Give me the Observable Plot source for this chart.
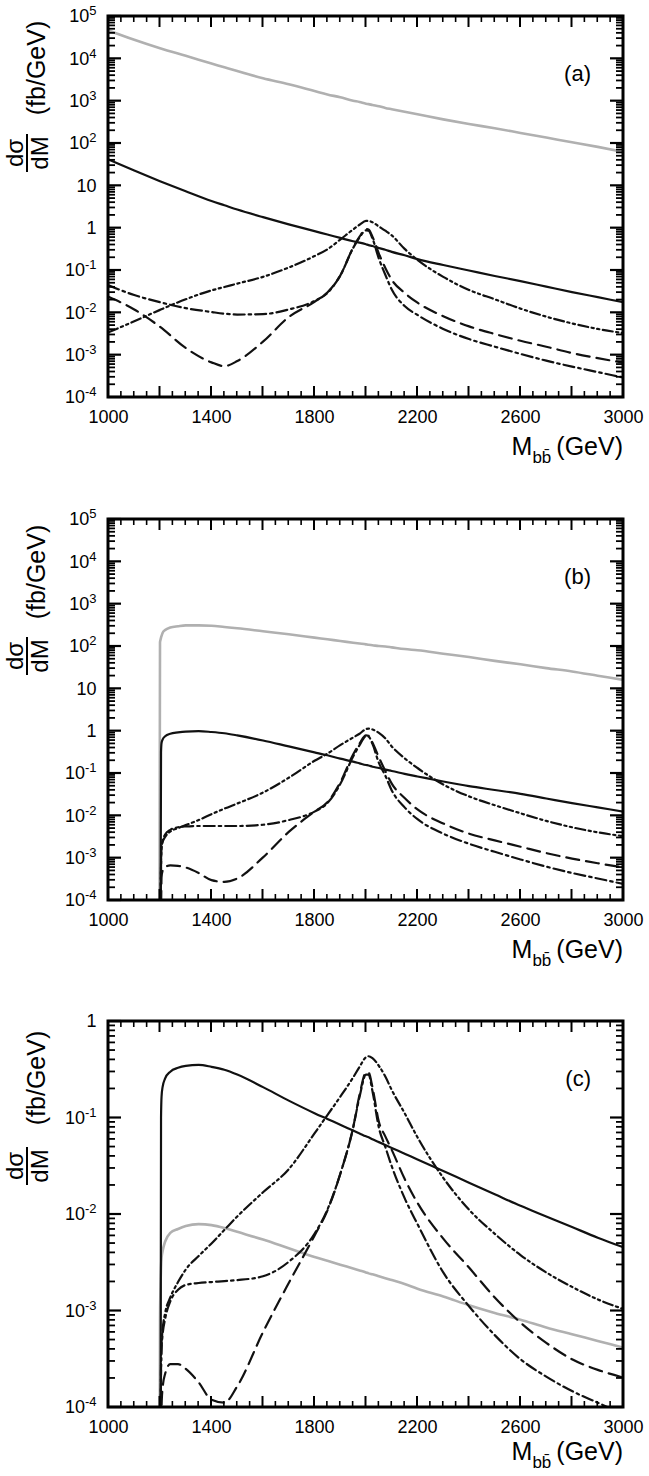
<!DOCTYPE html>
<html><head><meta charset="utf-8">
<script src="https://cdn.jsdelivr.net/npm/d3@7"></script>
<script src="https://cdn.jsdelivr.net/npm/@observablehq/plot@0.6"></script>
<style>
html,body{margin:0;padding:0;background:#fff;}
#chart{width:649px;font-family:"Liberation Sans",Arial,Helvetica,sans-serif;}
#chart svg{display:block;}
</style></head><body><div id="chart"></div>
<script>
// ---- tick labels ----
const xLabelTicks = [1000, 1400, 1800, 2200, 2600, 3000];
const xMajorTicks = [1000, 1200, 1400, 1600, 1800, 2000, 2200, 2400, 2600, 2800, 3000];
const yTicksAB = [1e5, 1e4, 1e3, 1e2, 10, 1, 1e-1, 1e-2, 1e-3, 1e-4];
const yTextAB = ["10^5", "10^4", "10^3", "10^2", "10", "1", "10^-1", "10^-2", "10^-3", "10^-4"];
const yTicksC = [1, 1e-1, 1e-2, 1e-3, 1e-4];
const yTextC = ["1", "10^-1", "10^-2", "10^-3", "10^-4"];
const panelTags = ["(a)", "(b)", "(c)"];

// ---- data: invariant mass grid (GeV) and log10(dσ/dM in fb/GeV) ----
const massA = [1000,1100,1200,1300,1400,1450,1500,1600,1700,1800,1850,1900,1950,1975,2000,2010,2025,2050,2075,2100,2150,2200,2300,2400,2500,2600,2700,2800,2900,3000];
const aGray   = [4.67,4.45,4.25,4.07,3.89,3.80,3.71,3.54,3.40,3.24,3.16,3.09,3.01,2.98,2.94,2.93,2.91,2.88,2.84,2.81,2.75,2.69,2.57,2.46,2.36,2.25,2.14,2.03,1.92,1.80];
const aSolid  = [1.62,1.36,1.11,0.87,0.64,0.54,0.44,0.26,0.09,-0.07,-0.15,-0.23,-0.31,-0.34,-0.38,-0.40,-0.42,-0.47,-0.51,-0.56,-0.64,-0.73,-0.87,-1.00,-1.13,-1.25,-1.38,-1.51,-1.63,-1.75];
const aDDD    = [-2.46,-2.20,-1.93,-1.68,-1.47,-1.39,-1.31,-1.15,-0.93,-0.66,-0.50,-0.27,-0.03,0.08,0.17,0.17,0.14,0.04,-0.06,-0.17,-0.49,-0.75,-1.15,-1.46,-1.68,-1.90,-2.09,-2.25,-2.38,-2.48];
const aDD     = [-1.35,-1.58,-1.75,-1.89,-1.98,-2.02,-2.04,-2.03,-1.92,-1.72,-1.53,-1.12,-0.47,-0.22,-0.05,-0.06,-0.24,-0.72,-1.10,-1.45,-1.84,-2.05,-2.38,-2.62,-2.80,-2.97,-3.13,-3.27,-3.40,-3.53];
const aDash   = [-1.62,-1.92,-2.33,-2.83,-3.17,-3.26,-3.14,-2.68,-2.10,-1.74,-1.52,-1.12,-0.46,-0.20,-0.02,-0.03,-0.20,-0.60,-0.94,-1.22,-1.53,-1.76,-2.08,-2.32,-2.50,-2.66,-2.80,-2.95,-3.07,-3.18];

const massBC = [1198,1200,1202,1204,1206,1210,1220,1240,1270,1300,1350,1400,1450,1500,1600,1700,1800,1850,1900,1950,1975,2000,2010,2025,2050,2075,2100,2150,2200,2300,2400,2500,2600,2700,2800,2900,3000];
const bGray   = [-5,2.10,2.16,2.21,2.25,2.32,2.39,2.45,2.48,2.50,2.50,2.49,2.46,2.43,2.36,2.29,2.21,2.17,2.13,2.09,2.07,2.05,2.04,2.03,2.01,2.00,1.98,1.94,1.91,1.83,1.75,1.66,1.58,1.49,1.41,1.31,1.21];
const bSolid  = [-5,-5,-5,-0.50,-0.28,-0.20,-0.12,-0.06,-0.03,-0.01,0.00,-0.02,-0.05,-0.10,-0.22,-0.36,-0.50,-0.57,-0.65,-0.72,-0.76,-0.80,-0.81,-0.84,-0.87,-0.91,-0.94,-1.01,-1.07,-1.19,-1.30,-1.39,-1.48,-1.59,-1.70,-1.80,-1.90];
const bDDD    = [-5,-5,-4.2,-3.2,-2.75,-2.62,-2.50,-2.37,-2.29,-2.22,-2.10,-1.96,-1.83,-1.71,-1.45,-1.10,-0.70,-0.53,-0.33,-0.15,-0.06,0.05,0.06,0.04,-0.04,-0.17,-0.36,-0.64,-0.87,-1.26,-1.54,-1.75,-1.94,-2.12,-2.27,-2.39,-2.48];
const bDD     = [-5,-5,-4.2,-3.2,-2.75,-2.60,-2.44,-2.33,-2.27,-2.25,-2.24,-2.24,-2.24,-2.24,-2.21,-2.10,-1.90,-1.70,-1.25,-0.60,-0.33,-0.12,-0.13,-0.30,-0.75,-1.05,-1.40,-1.80,-2.08,-2.42,-2.66,-2.85,-3.03,-3.20,-3.35,-3.48,-3.61];
const bDash   = [-5,-5,-5,-4.3,-3.45,-3.30,-3.21,-3.17,-3.18,-3.22,-3.35,-3.52,-3.56,-3.48,-2.98,-2.38,-1.90,-1.68,-1.21,-0.55,-0.29,-0.10,-0.11,-0.27,-0.62,-0.94,-1.24,-1.58,-1.85,-2.18,-2.42,-2.58,-2.73,-2.88,-3.01,-3.12,-3.22];

const cGray   = [-5,-3.10,-2.75,-2.55,-2.45,-2.38,-2.28,-2.19,-2.15,-2.12,-2.10,-2.11,-2.14,-2.18,-2.26,-2.35,-2.44,-2.48,-2.52,-2.56,-2.58,-2.60,-2.61,-2.62,-2.64,-2.66,-2.68,-2.72,-2.77,-2.85,-2.94,-3.02,-3.09,-3.17,-3.24,-3.31,-3.38];
const cSolid  = [-5,-5,-5,-1.0,-0.78,-0.68,-0.59,-0.52,-0.48,-0.46,-0.45,-0.47,-0.50,-0.55,-0.68,-0.82,-0.95,-1.01,-1.07,-1.13,-1.16,-1.19,-1.20,-1.22,-1.25,-1.28,-1.31,-1.37,-1.43,-1.55,-1.67,-1.79,-1.91,-2.02,-2.13,-2.24,-2.34];
const cDDD    = [-5,-5,-4.3,-3.6,-3.35,-3.20,-3.02,-2.86,-2.70,-2.57,-2.43,-2.30,-2.16,-2.02,-1.77,-1.53,-1.16,-0.97,-0.78,-0.58,-0.47,-0.37,-0.36,-0.38,-0.46,-0.57,-0.71,-0.95,-1.20,-1.62,-1.95,-2.20,-2.42,-2.60,-2.75,-2.88,-2.98];
const cDD     = [-5,-5,-4.3,-3.6,-3.40,-3.25,-3.08,-2.90,-2.78,-2.73,-2.71,-2.70,-2.69,-2.68,-2.64,-2.49,-2.20,-1.95,-1.58,-1.10,-0.78,-0.55,-0.55,-0.72,-1.10,-1.30,-1.50,-1.83,-2.10,-2.60,-2.95,-3.25,-3.50,-3.68,-3.83,-3.95,-4.07];
const cDash   = [-5,-5,-5,-4.5,-4.0,-3.80,-3.65,-3.55,-3.55,-3.60,-3.74,-3.92,-3.95,-3.78,-3.22,-2.71,-2.22,-1.96,-1.58,-1.10,-0.76,-0.53,-0.53,-0.68,-1.04,-1.19,-1.33,-1.63,-1.88,-2.25,-2.55,-2.86,-3.12,-3.33,-3.50,-3.61,-3.69];

// ---- line styles ----
const styles = {
  gray:  {stroke: "#b0b0b0", strokeWidth: 2.6},
  solid: {stroke: "#111", strokeWidth: 2.2},
  ddd:   {stroke: "#111", strokeWidth: 2.2, strokeDasharray: "10,3.5,2.2,3.5,2.2,3.5"},
  dd:    {stroke: "#111", strokeWidth: 2.2, strokeDasharray: "11,4,2.5,4"},
  dash:  {stroke: "#111", strokeWidth: 2.2, strokeDasharray: "13,7"}
};

const W = 649, ML = 108, MR = 26;
const NS = "http://www.w3.org/2000/svg";
const FONT = '"Liberation Sans", Arial, Helvetica, sans-serif';

function makePanel(cfg) {
  const {mass, lines, yDomain, yTicks, yText, tag, height, marginTop, marginBottom, fbOff, fracOff, titleOff} = cfg;
  const plotH = height - marginTop - marginBottom;
  const plotW = W - ML - MR;
  const xMinor = d3.range(1000, 3001, 50).filter(v => v % 200 !== 0);
  const lo = Math.round(Math.log10(yDomain[0])), hi = Math.round(Math.log10(yDomain[1]));
  const yMinor = [];
  for (let k = lo; k < hi; k++) for (let m = 2; m <= 9; m++) yMinor.push(m * Math.pow(10, k));
  const label = new Map(yTicks.map((v, i) => [v, yText[i]]));

  const marks = [];
  for (const ln of lines) {
    const data = mass.map((m, i) => ({M: m, v: Math.pow(10, ln.log[i])}));
    marks.push(Plot.line(data, {x: "M", y: "v", curve: "monotone-x", clip: true, ...styles[ln.style]}));
  }
  marks.push(
    Plot.axisX(xLabelTicks, {tickSize: 0, tickPadding: 13, tickFormat: d => String(d), label: null, fontSize: 18}),
    Plot.axisY(yTicks, {tickSize: 0, tickPadding: 12, tickFormat: d => label.get(d), label: null, fontSize: 18})
  );

  const svg = Plot.plot({
    width: W, height, marginLeft: ML, marginRight: MR, marginTop, marginBottom,
    x: {domain: [1000, 3000], label: null},
    y: {type: "log", domain: yDomain, label: null},
    style: {fontFamily: FONT, color: "#000"},
    marks
  });

  // superscripts on y tick labels
  svg.querySelectorAll('[aria-label="y-axis tick label"] text').forEach(t => {
    const s = t.textContent;
    if (s.includes("^")) {
      const [base, exp] = s.split("^");
      t.textContent = "";
      const b = document.createElementNS(NS, "tspan"); b.textContent = base; t.appendChild(b);
      const e = document.createElementNS(NS, "tspan"); e.textContent = exp;
      e.setAttribute("dy", "-7"); e.setAttribute("font-size", "13px"); t.appendChild(e);
    }
  });

  const top = marginTop, bottom = marginTop + plotH, left = ML, right = W - MR;
  // positions from Plot's own scales
  const sx = svg.scale("x"), sy = svg.scale("y");
  const X = v => sx.apply(v), Y = v => sy.apply(v);

  const fr = d3.select(svg).append("g").attr("stroke", "#000").attr("fill", "none");
  const tick = (x1, y1, x2, y2, w) => fr.append("path").attr("d", `M${x1},${y1}L${x2},${y2}`).attr("stroke-width", w);
  for (const v of xMajorTicks) { const x = X(v); tick(x, bottom, x, bottom - 11, 2); tick(x, top, x, top + 11, 2); }
  for (const v of xMinor) { const x = X(v); tick(x, bottom, x, bottom - 6, 1.6); tick(x, top, x, top + 6, 1.6); }
  for (const v of yTicks) { const y = Y(v); tick(left, y, left + 13, y, 2.2); tick(right, y, right - 13, y, 2.2); }
  for (const v of yMinor) { const y = Y(v); tick(left, y, left + 7, y, 1.8); tick(right, y, right - 7, y, 1.8); }
  fr.append("rect").attr("x", left).attr("y", top).attr("width", right - left).attr("height", bottom - top)
    .attr("stroke-width", 3);

  const g = d3.select(svg).append("g").attr("fill", "#000").style("font-family", FONT);

  // panel tag
  g.append("text").attr("x", 591).attr("y", top + 65).attr("text-anchor", "end")
    .attr("font-size", 22).text(tag);

  // x-axis title  M_{b b̄} (GeV)
  const xt = g.append("text").attr("x", right).attr("y", bottom + titleOff)
    .attr("text-anchor", "end").attr("font-size", 25);
  xt.append("tspan").text("M");
  xt.append("tspan").attr("dy", 8).attr("font-size", 17).text("bb\u0304");
  xt.append("tspan").attr("dy", -8).attr("dx", 5).text("(GeV)");

  // y-axis title: dσ/dM  (fb/GeV)
  const yt = g.append("g").attr("transform", `translate(27,${top + fracOff}) rotate(-90)`);
  yt.append("text").attr("x", 0).attr("y", -4).attr("text-anchor", "middle").attr("font-size", 24).text("dσ");
  yt.append("text").attr("x", 0).attr("y", 4).attr("dy", "0.72em").attr("text-anchor", "middle").attr("font-size", 24).text("dM");
  yt.append("path").attr("d", "M-19,0H19").attr("stroke", "#000").attr("stroke-width", 2).attr("fill", "none");
  g.append("text").attr("transform", `translate(45,${top + fbOff}) rotate(-90)`)
    .attr("text-anchor", "middle").attr("font-size", 25).text("(fb/GeV)");
  return svg;
}

const chart = document.getElementById("chart");
const panels = [
  {mass: massA, yDomain: [1e-4, 1e5], yTicks: yTicksAB, yText: yTextAB, tag: panelTags[0],
   height: 503, marginTop: 16, marginBottom: 106, fbOff: 52, fracOff: 137, titleOff: 58,
   lines: [{log: aGray, style: "gray"}, {log: aSolid, style: "solid"}, {log: aDDD, style: "ddd"}, {log: aDD, style: "dd"}, {log: aDash, style: "dash"}]},
  {mass: massBC, yDomain: [1e-4, 1e5], yTicks: yTicksAB, yText: yTextAB, tag: panelTags[1],
   height: 503, marginTop: 16, marginBottom: 106, fbOff: 53, fracOff: 137, titleOff: 58,
   lines: [{log: bGray, style: "gray"}, {log: bSolid, style: "solid"}, {log: bDDD, style: "ddd"}, {log: bDD, style: "dd"}, {log: bDash, style: "dash"}]},
  {mass: massBC, yDomain: [1e-4, 1], yTicks: yTicksC, yText: yTextC, tag: panelTags[2],
   height: 468, marginTop: 15, marginBottom: 67, fbOff: 57, fracOff: 145, titleOff: 53,
   lines: [{log: cGray, style: "gray"}, {log: cSolid, style: "solid"}, {log: cDDD, style: "ddd"}, {log: cDD, style: "dd"}, {log: cDash, style: "dash"}]}
];
for (const p of panels) chart.appendChild(makePanel(p));
</script></body></html>
